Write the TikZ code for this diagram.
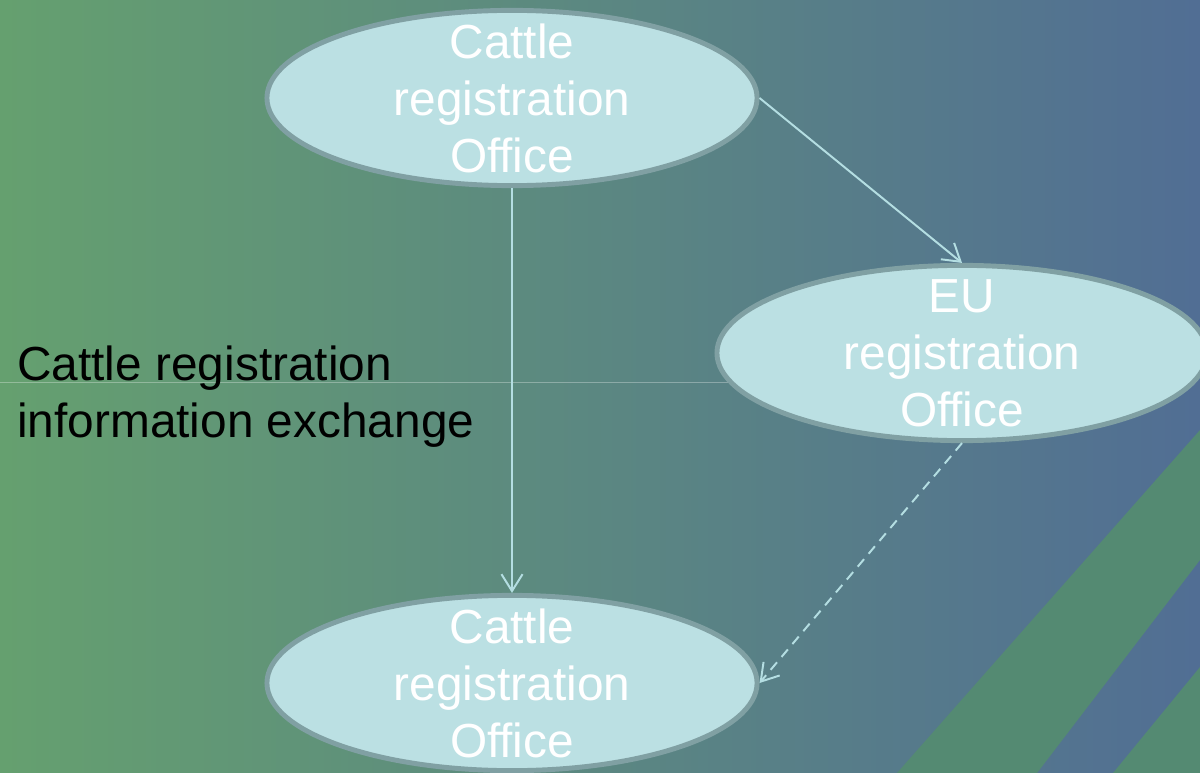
\documentclass[tikz,border=0pt]{standalone}
\usepackage{fontspec}
\setmainfont{Liberation Sans}
\usepackage{tikz}
\usetikzlibrary{arrows.meta,shapes.geometric,backgrounds}

\definecolor{bgleft}{RGB}{101,160,111}
\definecolor{bgright}{RGB}{81,110,148}
\definecolor{stripe}{RGB}{84,138,114}
\definecolor{officefill}{RGB}{187,224,227}
\definecolor{officeline}{RGB}{128,160,163}
\definecolor{linkcol}{RGB}{180,222,226}

\begin{document}
\begin{tikzpicture}[x=0.025cm, y=-0.025cm,
  office/.style={ellipse, draw=officeline, line width=3.5pt, fill=officefill,
    minimum width=12.25cm, minimum height=4.38cm, inner xsep=0pt, inner ysep=-0.45cm,
    align=center, text=white, font=\fontsize{34}{40.5}\selectfont},
  link/.style={draw=linkcol, line width=1.4pt, -{Straight Barb[length=12pt,width=15pt]}}]

\useasboundingbox (0,0) rectangle (1200,773);

\node[office] (top) at (512,98) {Cattle\\registration\\Office};
\node[office] (eu) at (962,353) {EU\\registration\\Office};
\node[office] (bot) at (512,683) {Cattle\\registration\\Office};

\node[anchor=north west, inner sep=0pt, align=left, font=\fontsize{34}{40.5}\selectfont] (info) at (17,346)
  {Cattle registration\\information exchange};

\coordinate (lft) at (0,382);

\begin{scope}[on background layer]
\shade[left color=bgleft, right color=bgright] (0,0) rectangle (1200,773);
\fill[stripe] (897,773) -- (1200,430) -- (1200,560) -- (1037,773) -- cycle;
\fill[stripe] (1113,773) -- (1200,667) -- (1200,773) -- cycle;
\draw[white, opacity=0.3, line width=0.7pt] (lft) -- (lft -| eu.center);
\end{scope}

\draw[link] (top.south) -- (bot.north);
\draw[link] (top.east) -- (eu.north);
\draw[link, dash pattern=on 7pt off 5pt] (eu.south) -- (bot.east);
\end{tikzpicture}
\end{document}
